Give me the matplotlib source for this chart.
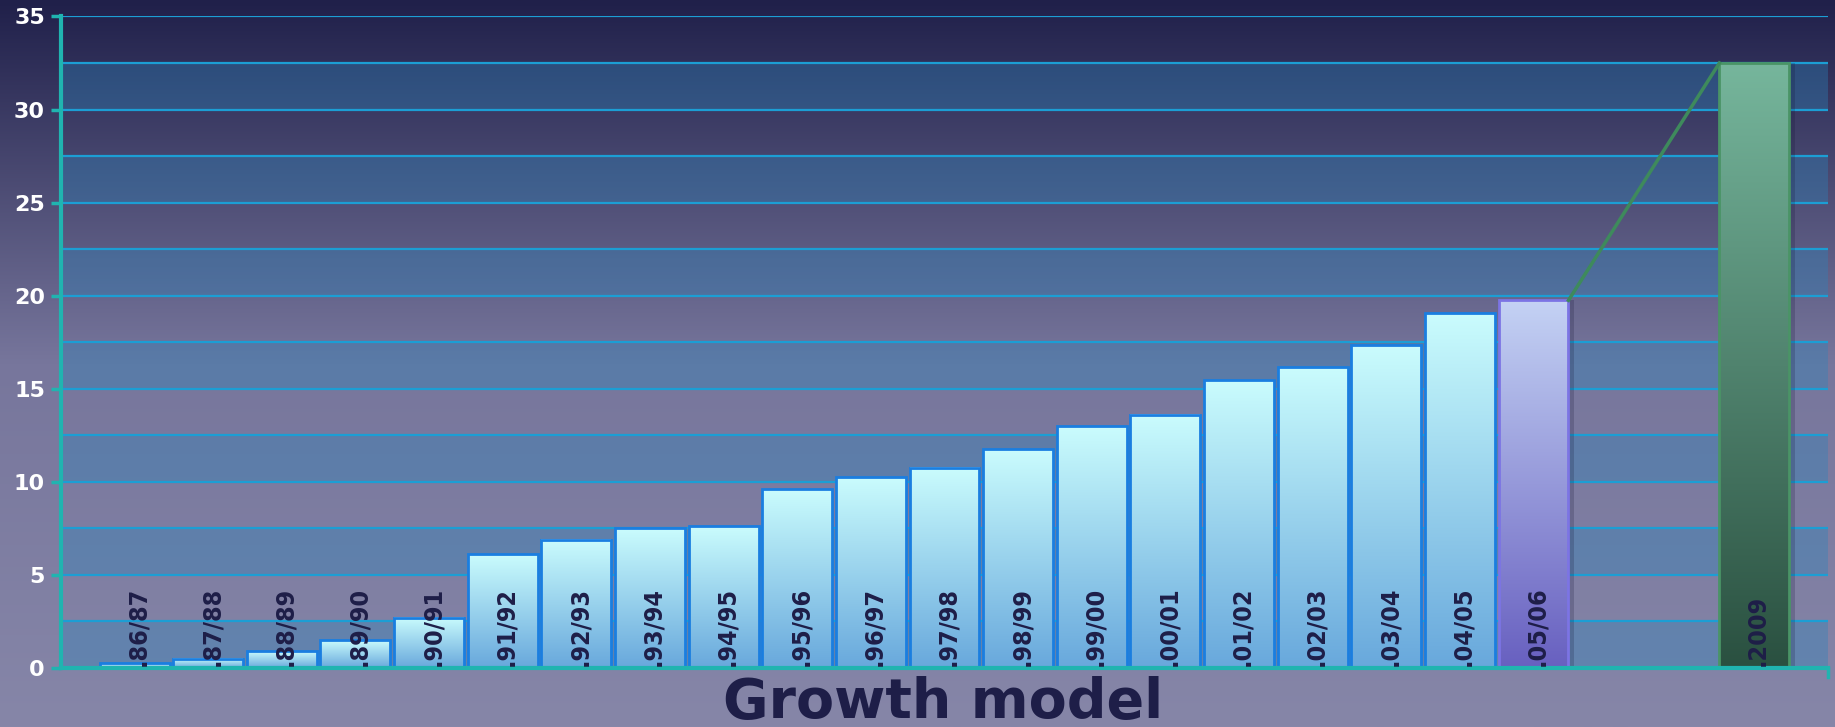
import numpy as np
import matplotlib.pyplot as plt
from matplotlib.colors import LinearSegmentedColormap


# Season labels and values
seasons = ['.86/87', '.87/88', '.88/89', '.89/90', '.90/91', '.91/92', '.92/93',
           '.93/94', '.94/95', '.95/96', '.96/97', '.97/98', '.98/99', '.99/00',
           '.00/01', '.01/02', '.02/03', '.03/04', '.04/05', '.05/06']
values = [0.25, 0.5, 0.9, 1.5, 2.7, 6.1, 6.9, 7.5, 7.6, 9.6, 10.25, 10.75,
          11.75, 13.0, 13.6, 15.45, 16.15, 17.35, 19.05, 19.75]

target_label = '.2009'
target_value = 32.5

y_ticks = [0, 5, 10, 15, 20, 25, 30, 35]
title = 'Growth model'


def gradient_bar(ax, bar, top_color, bottom_color):
    """Fill one bar with a vertical gradient (top -> bottom)."""
    x0 = bar.get_x()
    x1 = x0 + bar.get_width()
    h = bar.get_height()
    cmap = LinearSegmentedColormap.from_list('g', [bottom_color, top_color])
    grad = np.linspace(0, 1, 256).reshape(-1, 1)
    ax.imshow(grad, extent=(x0, x1, 0, h), origin='lower', cmap=cmap,
              aspect='auto', zorder=3, interpolation='bicubic')


def plot_growth():
    fig = plt.figure(figsize=(18.35, 7.27), dpi=100)

    # background gradient for the whole figure
    bg = fig.add_axes([0, 0, 1, 1], zorder=-5)
    bg_cmap = LinearSegmentedColormap.from_list('bg', ['#8686a8', '#77769c', '#20204a'])
    bg.imshow(np.linspace(0, 1, 256).reshape(-1, 1), origin='lower', cmap=bg_cmap,
              aspect='auto', extent=(0, 1, 0, 1))
    bg.axis('off')

    ax = fig.add_axes([0.0332, 0.0812, 0.9630, 0.8962])
    ax.patch.set_alpha(0)

    # horizontal bands + grid lines every 2.5
    for lo in np.arange(0, 35, 5):
        ax.axhspan(lo, lo + 2.5, color='#2a84bc', alpha=0.36, lw=0, zorder=0)
    for g in np.arange(2.5, 35.1, 2.5):
        ax.axhline(g, color='#1c9ed4', lw=1.6, zorder=1)

    x = np.arange(len(seasons))
    x_target = len(seasons) + 2   # one empty slot before the 2009 bar

    bars = ax.bar(x, values, width=0.95, facecolor='none', edgecolor='#1a7ee0',
                  linewidth=2, zorder=4)
    for i, b in enumerate(bars):
        if i == len(bars) - 1:
            # last season is highlighted in lavender
            gradient_bar(ax, b, '#c4d2f4', '#6860c0')
            b.set_edgecolor('#7c74e4')
        else:
            gradient_bar(ax, b, '#cafcfd', '#68a8dc')

    tbar = ax.bar([x_target], [target_value], width=0.95, facecolor='none',
                  edgecolor='#4a9466', linewidth=2, zorder=4)[0]
    gradient_bar(ax, tbar, '#76b69c', '#2a5040')

    # soft drop shadows to the right of the highlighted bars
    for b in [bars[-1], tbar]:
        ax.bar(b.get_x() + b.get_width() + 0.01, b.get_height(), width=0.06,
               align='edge', color='#101030', alpha=0.2, lw=0, zorder=2)

    # connector line from the last season to the 2009 target
    last = bars[-1]
    ax.plot([last.get_x() + last.get_width(), tbar.get_x()],
            [last.get_height(), tbar.get_height()], color='#3e8a5c', lw=2.5, zorder=5)

    # rotated labels inside the bars
    for xi, lab in zip(list(x) + [x_target], seasons + [target_label]):
        ax.text(xi + 0.05, 0.12, lab, rotation=90, ha='center', va='bottom',
                fontsize=18, color='#1e1e48', family='DejaVu Sans',
                fontstretch='condensed', fontweight='bold', zorder=8)

    ax.set_xlim(-1, 23)
    ax.set_ylim(0, 35)
    ax.set_xticks([])
    ax.set_yticks(y_ticks)
    ax.set_yticklabels([str(t) for t in y_ticks], color='white', fontsize=16,
                       fontweight='bold', family='DejaVu Sans')
    ax.tick_params(axis='y', color='#20b4b0', width=2.5, length=7, pad=4.5)

    for s in ['top', 'right']:
        ax.spines[s].set_visible(False)
    for s in ['left', 'bottom']:
        ax.spines[s].set_color('#20b4b0')
        ax.spines[s].set_linewidth(3)
        ax.spines[s].set_zorder(7)

    # little end tick at the right of the x axis
    ax.plot([23, 23], [0, -0.5], color='#20b4b0', lw=2.5, clip_on=False, zorder=7)

    fig.text(0.514, 0.012, title, ha='center', va='baseline', fontsize=40,
             fontweight='bold', color='#1e1e48', family='DejaVu Sans')

    plt.savefig('out.png', dpi=100)


def main():
    plot_growth()


if __name__ == '__main__':
    main()
